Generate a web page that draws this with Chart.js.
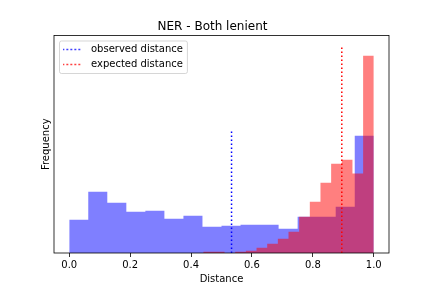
<!DOCTYPE html>
<html>
<head>
<meta charset="utf-8">
<script src="https://cdn.jsdelivr.net/npm/chart.js@4.4.1/dist/chart.umd.min.js"></script>
<style>
  body { margin: 0; background: #ffffff; }
  canvas { display: block; }
</style>
</head>
<body>
<canvas id="hist_chart" width="432" height="288"></canvas>
<script>
// histogram bins (heights in arbitrary units, y axis has no labels)
let observedEdges = [0, 0.0625, 0.125, 0.1875, 0.25, 0.3125, 0.375, 0.4375, 0.5,
                     0.5625, 0.625, 0.6875, 0.75, 0.8125, 0.875, 0.9375, 1.0];
let observedCounts = [100, 184, 151, 124, 127, 103, 112, 79, 82, 85, 85, 73, 109, 109, 139, 352];

let expectedEdges = [0.44, 0.475, 0.51, 0.545, 0.58, 0.615, 0.65, 0.685, 0.72,
                     0.755, 0.79, 0.825, 0.86, 0.895, 0.93, 0.965, 1.0];
let expectedCounts = [4, 4, 0, 4, 7, 16, 28, 43, 64, 109, 154, 211, 268, 280, 239, 592];

let observedDistance = 0.533;
let expectedDistance = 0.895;
let observedLineTop = 365;
let expectedLineTop = 622;

let xTicks = [0.0, 0.2, 0.4, 0.6, 0.8, 1.0];
let xRange = [-0.05, 1.05];
let yRange = [0, 653];

//=======================================================//
function stepPoints(edges, counts) {
    return edges.map(function (edge, i) {
        return { x: edge, y: counts[Math.min(i, counts.length - 1)] };
    });
}

function dottedSample(color) {
    let c = document.createElement('canvas');
    c.width = 20;
    c.height = 3;
    let g = c.getContext('2d');
    g.strokeStyle = color;
    g.lineWidth = 1.5;
    g.setLineDash([1.5, 2.5]);
    g.beginPath();
    g.moveTo(0, 1.5);
    g.lineTo(20, 1.5);
    g.stroke();
    return c;
}

// legend inside the plot with a light frame, and a box round the axes
let framePlugin = {
    id: 'frame',
    afterLayout(chart) {
        let legend = chart.legend;
        let h = legend.bottom - legend.top;
        legend.top = chart.chartArea.top;
        legend.bottom = legend.top + h;
    },
    beforeDraw(chart) {
        let boxes = chart.legend.legendHitBoxes;
        if (!boxes || !boxes.length) return;
        let left = Math.min(...boxes.map(b => b.left));
        let top = Math.min(...boxes.map(b => b.top));
        let right = Math.max(...boxes.map(b => b.left + b.width));
        let bottom = Math.max(...boxes.map(b => b.top + b.height));
        let ctx = chart.ctx;
        ctx.save();
        ctx.fillStyle = 'rgba(255,255,255,0.8)';
        ctx.strokeStyle = 'rgba(204,204,204,0.8)';
        ctx.lineWidth = 1;
        ctx.beginPath();
        ctx.roundRect(left + 0.5, top - 3.5, right - left + 4, bottom - top + 7.5, 2);
        ctx.fill();
        ctx.stroke();
        ctx.restore();
    },
    afterDatasetsDraw(chart) {
        let a = chart.chartArea;
        let ctx = chart.ctx;
        ctx.save();
        ctx.strokeStyle = '#000000';
        ctx.lineWidth = 0.8;
        ctx.strokeRect(a.left, a.top, a.right - a.left, a.bottom - a.top);
        ctx.restore();
    }
};

Chart.defaults.font.family = 'DejaVu Sans';
Chart.defaults.font.size = 10;
Chart.defaults.color = '#000000';

let ctx = document.getElementById('hist_chart').getContext('2d');

let hist_chart = new Chart(ctx, {
    type: 'line',
    data: {
        datasets: [
            {
                label: 'observed distance',
                data: [{ x: observedDistance, y: 0 }, { x: observedDistance, y: observedLineTop }],
                borderColor: '#0000ff',
                borderWidth: 1.5,
                borderDash: [1.5, 2.5],
                pointRadius: 0,
                pointStyle: dottedSample('#0000ff'),
                fill: false
            },
            {
                label: 'expected distance',
                data: [{ x: expectedDistance, y: 0 }, { x: expectedDistance, y: expectedLineTop }],
                borderColor: '#ff0000',
                borderWidth: 1.5,
                borderDash: [1.5, 2.5],
                pointRadius: 0,
                pointStyle: dottedSample('#ff0000'),
                fill: false
            },
            {
                label: 'expected',
                data: stepPoints(expectedEdges, expectedCounts),
                stepped: true,
                borderWidth: 0,
                borderColor: 'rgba(0,0,0,0)',
                backgroundColor: 'rgba(255,0,0,0.5)',
                pointRadius: 0,
                fill: 'origin'
            },
            {
                label: 'observed',
                data: stepPoints(observedEdges, observedCounts),
                stepped: true,
                borderWidth: 0,
                borderColor: 'rgba(0,0,0,0)',
                backgroundColor: 'rgba(0,0,255,0.5)',
                pointRadius: 0,
                fill: 'origin'
            }
        ]
    },
    options: {
        responsive: false,
        maintainAspectRatio: false,
        animation: false,
        layout: {
            padding: { left: 36, right: 43, top: 0, bottom: 1 }
        },
        scales: {
            x: {
                type: 'linear',
                min: xRange[0],
                max: xRange[1],
                afterBuildTicks: function (axis) {
                    axis.ticks = xTicks.map(v => ({ value: v }));
                },
                ticks: {
                    padding: 2,
                    color: '#000000',
                    callback: v => v.toFixed(1)
                },
                grid: {
                    display: true,
                    drawOnChartArea: false,
                    drawTicks: true,
                    tickLength: 4,
                    color: '#000000',
                    lineWidth: 0.8
                },
                border: { display: false },
                title: {
                    display: true,
                    text: 'Distance',
                    color: '#000000',
                    padding: { top: 0, bottom: 2 }
                }
            },
            y: {
                min: yRange[0],
                max: yRange[1],
                ticks: { display: false },
                grid: { display: false, drawTicks: false },
                border: { display: false },
                title: {
                    display: true,
                    text: 'Frequency',
                    color: '#000000',
                    padding: { top: 4, bottom: 2 }
                }
            }
        },
        plugins: {
            title: {
                display: true,
                text: 'NER - Both lenient',
                font: { size: 12, weight: 'normal' },
                color: '#000000',
                padding: { top: 20, bottom: 1.1 }
            },
            legend: {
                display: true,
                position: 'chartArea',
                align: 'start',
                title: {
                    display: true,
                    text: '',
                    font: { size: 1, lineHeight: 1 },
                    padding: { top: 3, bottom: 0 }
                },
                labels: {
                    usePointStyle: true,
                    pointStyleWidth: 27,
                    padding: 5,
                    color: '#000000',
                    font: { size: 10 },
                    filter: item => item.datasetIndex < 2
                }
            },
            tooltip: { enabled: false }
        }
    },
    plugins: [framePlugin]
});
</script>
</body>
</html>
